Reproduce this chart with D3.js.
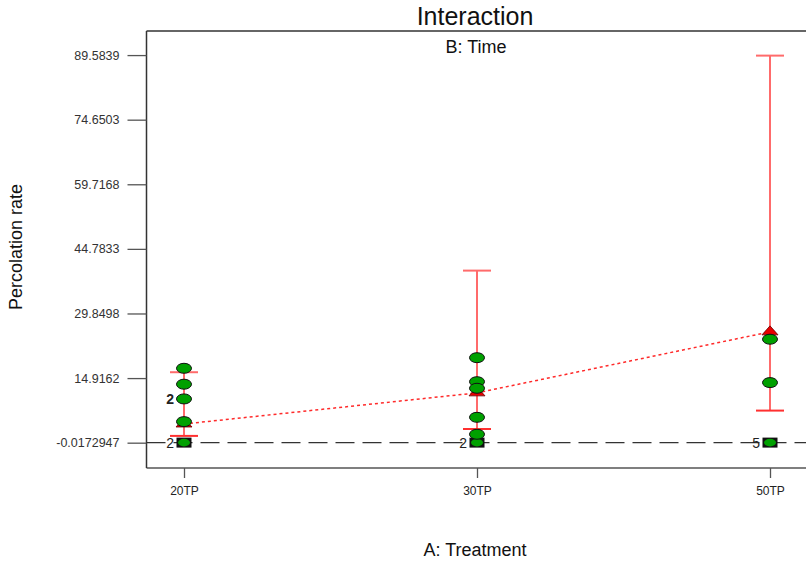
<!DOCTYPE html>
<html>
<head>
<meta charset="utf-8">
<script src="https://cdn.jsdelivr.net/npm/d3@7"></script>
<style>
  html, body { margin: 0; padding: 0; background: #fff; }
  svg { display: block; font-family: "Liberation Sans", Arial, sans-serif; }
</style>
</head>
<body>
<svg id="chart" width="806" height="565"></svg>
<script>
// ---- Data ----
const categories = ["20TP", "30TP", "50TP"];
const yTickValues = [-0.0172947, 14.9162, 29.8498, 44.7833, 59.7168, 74.6503, 89.5839];
const yTickLabels = ["-0.0172947", "14.9162", "29.8498", "44.7833", "59.7168", "74.6503", "89.5839"];

// B level 1 (red triangles, dotted line) with LSD bars
const meanB1 = [4.3, 11.5, 25.6];
const lowB1 = [1.55, 3.15, 7.4];
const highB1 = [16.27, 39.76, 89.46];

// B level 2 (squares, dashed line)
const meanB2 = [0, 0, 0];
const countB2 = [2, 2, 5];

// Design points (ellipses)
const points20 = [17.18, 13.5, 10.1, 4.85];
const counts20 = [1, 1, 2, 1];
const points30 = [19.63, 14.08, 12.56, 5.85, 1.93];
const counts30 = [1, 1, 1, 1, 1];
const points50 = [23.9, 13.87];
const counts50 = [1, 1];

(function () {
// ---- Layout ----
const svg = d3.select("#chart");
const pLeft = 146.5, pRight = 806, pTop = 31, pBottom = 468;

const x = d3.scalePoint().domain(categories).range([184, 770]);
const y = d3.scaleLinear().domain([-5.87, 95.15]).range([pBottom, pTop]);

// Frame
svg.append("line").attr("x1", pLeft).attr("x2", pRight).attr("y1", pTop).attr("y2", pTop)
  .attr("stroke", "#666").attr("stroke-width", 2);
svg.append("line").attr("x1", pLeft).attr("x2", pRight).attr("y1", pBottom).attr("y2", pBottom)
  .attr("stroke", "#555").attr("stroke-width", 1.5);
svg.append("line").attr("x1", pLeft).attr("x2", pLeft).attr("y1", pTop).attr("y2", pBottom)
  .attr("stroke", "#333").attr("stroke-width", 1.5);

// Y axis
const yAxis = d3.axisLeft(y).tickValues(yTickValues)
  .tickFormat((d, i) => yTickLabels[i]).tickSize(19).tickPadding(8);
const gy = svg.append("g").attr("transform", `translate(${pLeft},0)`).call(yAxis);
gy.select(".domain").remove();
gy.selectAll(".tick line").attr("stroke", "#555").attr("stroke-width", 1.3);
gy.selectAll(".tick text").attr("fill", "#333").style("font-size", "12.5px")
  .style("font-family", "'Liberation Sans', Arial, sans-serif");

// X axis
const xAxis = d3.axisBottom(x).tickSize(10).tickPadding(8);
const gx = svg.append("g").attr("transform", `translate(0,${pBottom})`).call(xAxis);
gx.select(".domain").remove();
gx.selectAll(".tick line").attr("stroke", "#555").attr("stroke-width", 1.3);
gx.selectAll(".tick text").attr("fill", "#222").style("font-size", "12px")
  .style("font-family", "'Liberation Sans', Arial, sans-serif");

// Titles
svg.append("text").attr("x", 475).attr("y", 25).attr("text-anchor", "middle")
  .style("font-size", "25px").attr("fill", "#111").text("Interaction");
svg.append("text").attr("x", 476).attr("y", 53).attr("text-anchor", "middle")
  .style("font-size", "18px").attr("fill", "#111").text("B: Time");
svg.append("text").attr("x", 475).attr("y", 556).attr("text-anchor", "middle")
  .style("font-size", "18px").attr("fill", "#111").text("A: Treatment");
svg.append("text").attr("transform", "translate(22,247) rotate(-90)").attr("text-anchor", "middle")
  .style("font-size", "18px").attr("fill", "#111").text("Percolation rate");

// Dashed line for B level 2
const line = d3.line().x((d, i) => x(categories[i])).y(d => y(d));
svg.append("line")
  .attr("x1", pLeft).attr("x2", pRight).attr("y1", y(meanB2[0])).attr("y2", y(meanB2[0]))
  .attr("stroke", "#333").attr("stroke-width", 1.3).attr("stroke-dasharray", "19,8");

// Error bars
const eb = svg.append("g");
categories.forEach((c, i) => {
  const cx = x(c);
  eb.append("line").attr("x1", cx).attr("x2", cx).attr("y1", y(lowB1[i])).attr("y2", y(highB1[i]))
    .attr("stroke", "#ff6b6b").attr("stroke-width", 2);
  eb.append("line").attr("x1", cx - 14).attr("x2", cx + 14).attr("y1", y(lowB1[i])).attr("y2", y(lowB1[i]))
    .attr("stroke", "#ff3030").attr("stroke-width", 2);
  eb.append("line").attr("x1", cx - 14).attr("x2", cx + 14).attr("y1", y(highB1[i])).attr("y2", y(highB1[i]))
    .attr("stroke", "#ff6b6b").attr("stroke-width", 2);
});

// Dotted mean line B level 1
svg.append("path").datum(meanB1).attr("d", line).attr("fill", "none")
  .attr("stroke", "#ff2a2a").attr("stroke-width", 1.5).attr("stroke-dasharray", "3,3");

// Triangles (means)
categories.forEach((c, i) => {
  const cx = x(c), cy = y(meanB1[i]);
  svg.append("path").attr("d", `M${cx},${cy - 6} L${cx + 8},${cy + 3} L${cx - 8},${cy + 3} Z`)
    .attr("fill", "#e80000").attr("stroke", "#600").attr("stroke-width", 0.8);
});

// Squares at B level 2
categories.forEach((c, i) => {
  const cx = x(c), cy = y(meanB2[i]);
  svg.append("rect").attr("x", cx - 7.5).attr("y", cy - 5).attr("width", 15).attr("height", 10)
    .attr("fill", "#111");
  svg.append("ellipse").attr("cx", cx).attr("cy", cy).attr("rx", 6).attr("ry", 3.8)
    .attr("fill", "#00a000");
  if (countB2[i] > 1) {
    svg.append("text").attr("x", cx - 10).attr("y", cy + 5).attr("text-anchor", "end")
      .style("font-size", "14px").attr("fill", "#222").text(countB2[i]);
  }
});

// Design points (ellipses)
const groups = [[points20, counts20], [points30, counts30], [points50, counts50]];
groups.forEach(([vals, cnts], i) => {
  const cx = x(categories[i]);
  vals.forEach((v, j) => {
    const cy = y(v);
    svg.append("ellipse").attr("cx", cx).attr("cy", cy).attr("rx", 7.5).attr("ry", 5)
      .attr("fill", "#00a000").attr("stroke", "#111").attr("stroke-width", 1);
    if (cnts[j] > 1) {
      svg.append("text").attr("x", cx - 10).attr("y", cy + 5).attr("text-anchor", "end")
        .style("font-size", "14px").style("font-weight", "bold").attr("fill", "#222").text(cnts[j]);
    }
  });
});
})();
</script>
</body>
</html>
